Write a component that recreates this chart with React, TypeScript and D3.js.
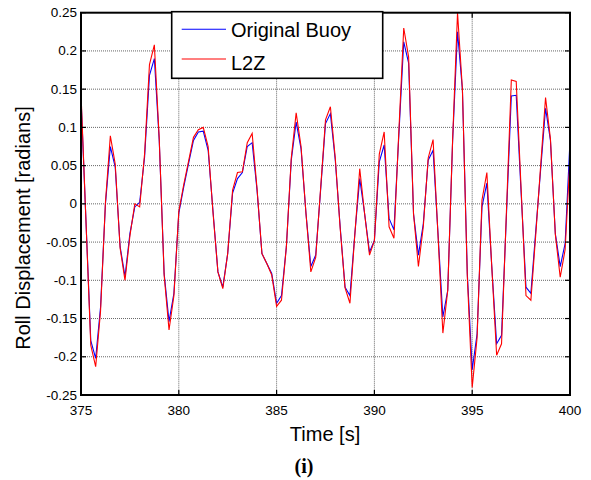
import React from "react";
import * as d3 from "d3";

const times = [
  375, 375.25, 375.5, 375.75, 376, 376.25, 376.5, 376.75, 377, 377.25, 377.5, 377.75,
  378, 378.25, 378.5, 378.75, 379, 379.25, 379.5, 379.75, 380, 380.25, 380.5, 380.75,
  381, 381.25, 381.5, 381.75, 382, 382.25, 382.5, 382.75, 383, 383.25, 383.5, 383.75,
  384, 384.25, 384.5, 384.75, 385, 385.25, 385.5, 385.75, 386, 386.25, 386.5, 386.75,
  387, 387.25, 387.5, 387.75, 388, 388.25, 388.5, 388.75, 389, 389.25, 389.5, 389.75,
  390, 390.25, 390.5, 390.75, 391, 391.25, 391.5, 391.75, 392, 392.25, 392.5, 392.75,
  393, 393.25, 393.5, 393.75, 394, 394.25, 394.5, 394.75, 395, 395.25, 395.5, 395.75,
  396, 396.25, 396.5, 396.75, 397, 397.25, 397.5, 397.75, 398, 398.25, 398.5, 398.75,
  399, 399.25, 399.5, 399.75, 400,
];

const originalBuoy = [
  0.14, -0.02, -0.179, -0.202, -0.135, 0.0, 0.075, 0.048, -0.056, -0.095, -0.039, -0.004,
  0.002, 0.061, 0.168, 0.19, 0.083, -0.091, -0.154, -0.117, -0.012, 0.022, 0.053, 0.083,
  0.094, 0.095, 0.07, -0.01, -0.089, -0.109, -0.065, 0.014, 0.033, 0.041, 0.075, 0.08,
  0.018, -0.065, -0.078, -0.091, -0.13, -0.12, -0.056, 0.057, 0.107, 0.072, -0.012, -0.082,
  -0.067, 0.018, 0.105, 0.118, 0.057, -0.03, -0.109, -0.12, -0.039, 0.033, -0.013, -0.063,
  -0.048, 0.055, 0.077, -0.019, -0.034, 0.09, 0.212, 0.184, -0.013, -0.067, -0.026, 0.057,
  0.07, -0.038, -0.148, -0.113, 0.083, 0.225, 0.149, -0.091, -0.217, -0.17, -0.004, 0.027,
  -0.082, -0.183, -0.172, -0.015, 0.141, 0.142, 0.015, -0.109, -0.117, -0.035, 0.045, 0.125,
  0.083, -0.039, -0.082, -0.052, 0.083,
];

const l2z = [
  0.145, -0.02, -0.185, -0.213, -0.14, 0.002, 0.089, 0.052, -0.058, -0.1, -0.042, 0.0,
  -0.004, 0.065, 0.182, 0.208, 0.085, -0.093, -0.165, -0.12, -0.01, 0.025, 0.056, 0.087,
  0.097, 0.1, 0.075, -0.012, -0.089, -0.111, -0.065, 0.018, 0.041, 0.042, 0.08, 0.092,
  0.02, -0.065, -0.078, -0.093, -0.134, -0.126, -0.056, 0.06, 0.119, 0.075, -0.012, -0.089,
  -0.07, 0.02, 0.11, 0.127, 0.06, -0.032, -0.11, -0.13, -0.04, 0.046, -0.013, -0.067,
  -0.048, 0.065, 0.094, -0.03, -0.045, 0.095, 0.23, 0.192, -0.013, -0.082, -0.03, 0.06,
  0.084, -0.04, -0.169, -0.113, 0.085, 0.25, 0.15, -0.095, -0.24, -0.175, 0.005, 0.041,
  -0.082, -0.198, -0.183, -0.01, 0.162, 0.16, 0.02, -0.12, -0.126, -0.04, 0.05, 0.139,
  0.085, -0.04, -0.096, -0.06, 0.06,
];

const xTicks = [375, 380, 385, 390, 395, 400];
const yTicks = [-0.25, -0.2, -0.15, -0.1, -0.05, 0, 0.05, 0.1, 0.15, 0.2, 0.25];
const yTickLabels = ["-0.25", "-0.2", "-0.15", "-0.1", "-0.05", "0", "0.05", "0.1", "0.15", "0.2", "0.25"];
const seriesNames = ["Original Buoy", "L2Z"];
const seriesColors = ["#0000ff", "#ff0000"];

const W = 591;
const H = 480;
const left = 81;
const right = 570;
const top = 12.7;
const bottom = 395;
const font = "'Liberation Sans', Arial, sans-serif";

export default function App() {
  const x = d3.scaleLinear().domain([375, 400]).range([left, right]);
  const y = d3.scaleLinear().domain([-0.25, 0.25]).range([bottom, top]);
  const line = d3
    .line<number>()
    .x((_, i) => x(times[i]))
    .y((d) => y(d));
  const series = [originalBuoy, l2z];
  const tickLen = 5;

  return (
    <svg
      width={W}
      height={H}
      style={{ position: "absolute", left: 0, top: 0, background: "#fff" }}
    >
      <rect x={0} y={0} width={W} height={H} fill="#fff" />
      <defs>
        <clipPath id="plotclip">
          <rect x={left} y={top - 1} width={right - left} height={bottom - top + 2} />
        </clipPath>
      </defs>
      {/* grid */}
      {xTicks.slice(1, -1).map((t) => (
        <line
          key={"gx" + t}
          x1={x(t)}
          x2={x(t)}
          y1={top}
          y2={bottom}
          stroke="#666"
          strokeWidth={1}
          strokeDasharray="1,1"
        />
      ))}
      {yTicks.slice(1, -1).map((t) => (
        <line
          key={"gy" + t}
          x1={left}
          x2={right}
          y1={y(t)}
          y2={y(t)}
          stroke="#666"
          strokeWidth={1}
          strokeDasharray="1,1"
        />
      ))}
      {/* series */}
      <g clipPath="url(#plotclip)">
        {series.map((s, i) => (
          <path
            key={"s" + i}
            d={line(s) || ""}
            fill="none"
            stroke={seriesColors[i]}
            strokeWidth={1.1}
            strokeLinejoin="miter"
          />
        ))}
      </g>
      {/* ticks */}
      {xTicks.map((t) => (
        <g key={"xt" + t}>
          <line x1={x(t)} x2={x(t)} y1={bottom} y2={bottom - tickLen} stroke="#000" strokeWidth={1.2} />
          <line x1={x(t)} x2={x(t)} y1={top} y2={top + tickLen} stroke="#000" strokeWidth={1.2} />
          <text
            x={x(t)}
            y={415}
            textAnchor="middle"
            fontFamily={font}
            fontSize={13.5}
            fill="#000"
          >
            {t}
          </text>
        </g>
      ))}
      {yTicks.map((t, i) => (
        <g key={"yt" + t}>
          <line x1={left} x2={left + tickLen} y1={y(t)} y2={y(t)} stroke="#000" strokeWidth={1.2} />
          <line x1={right} x2={right - tickLen} y1={y(t)} y2={y(t)} stroke="#000" strokeWidth={1.2} />
          <text
            x={77}
            y={y(t) + 4.5}
            textAnchor="end"
            fontFamily={font}
            fontSize={13.5}
            fill="#000"
          >
            {yTickLabels[i]}
          </text>
        </g>
      ))}
      {/* axes box */}
      <rect
        x={left}
        y={top}
        width={right - left}
        height={bottom - top}
        fill="none"
        stroke="#000"
        strokeWidth={2}
      />
      {/* legend */}
      <g>
        <rect x={171.7} y={11.7} width={211} height={66.6} fill="#fff" stroke="#000" strokeWidth={1.6} />
        {seriesNames.map((n, i) => (
          <g key={"lg" + i}>
            <line
              x1={181.7}
              x2={226}
              y1={29.3 + i * 29.7}
              y2={29.3 + i * 29.7}
              stroke={seriesColors[i]}
              strokeWidth={1.1}
            />
            <text
              x={231}
              y={36.5 + i * 33.2}
              fontFamily={font}
              fontSize={20}
              fill="#000"
            >
              {n}
            </text>
          </g>
        ))}
      </g>
      {/* axis labels */}
      <text
        x={325}
        y={441}
        textAnchor="middle"
        fontFamily={font}
        fontSize={20}
        fill="#000"
      >
        Time [s]
      </text>
      <text
        transform={`translate(30, 228) rotate(-90)`}
        textAnchor="middle"
        fontFamily={font}
        fontSize={20}
        fill="#000"
      >
        Roll Displacement [radians]
      </text>
      <text
        x={304}
        y={473}
        textAnchor="middle"
        fontFamily="'Liberation Serif', 'Times New Roman', serif"
        fontWeight="bold"
        fontSize={20}
        fill="#000"
      >
        (i)
      </text>
    </svg>
  );
}
